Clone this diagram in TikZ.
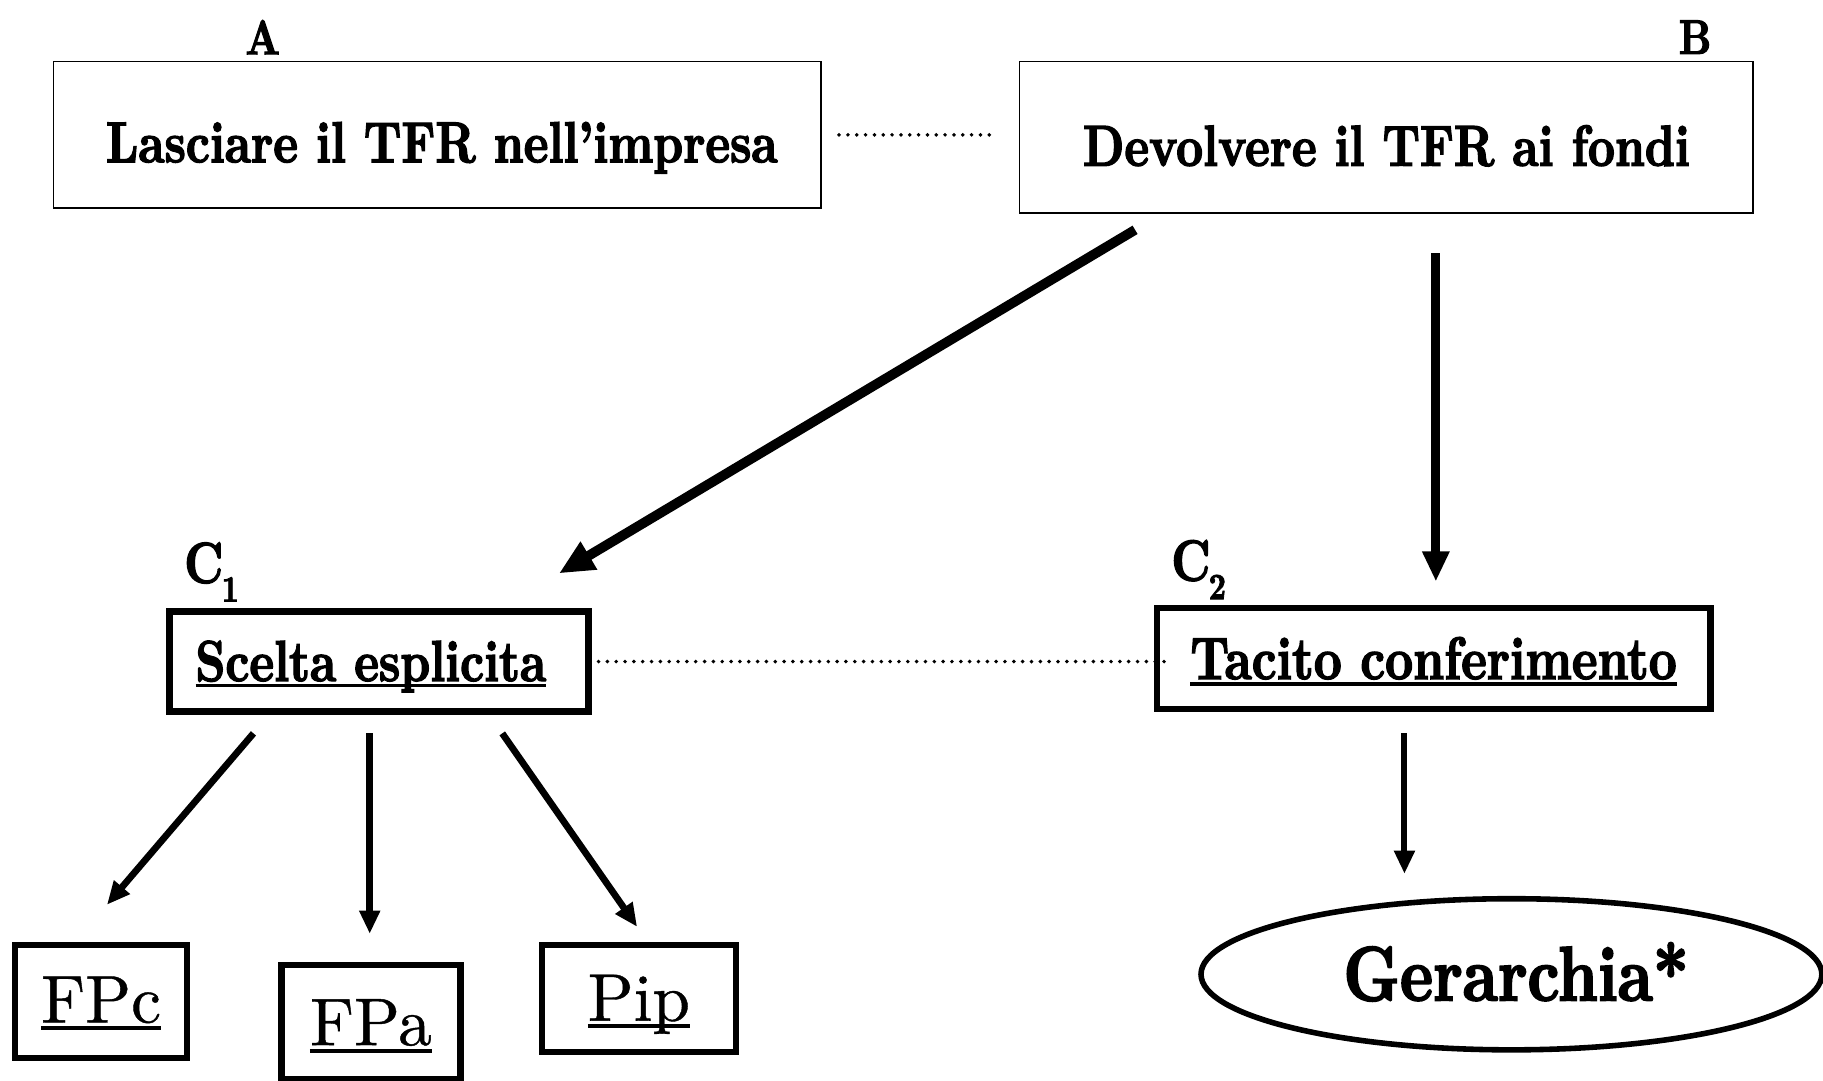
\documentclass[tikz,border=0pt]{standalone}
\usepackage{fontspec}
\newfontfamily\headfont{lmroman10-bold}[Extension=.otf, FakeStretch=0.81, FakeBold=2.2]
\newfontfamily\fundfont{lmroman10-regular}[Extension=.otf, FakeBold=0.6]
\usetikzlibrary{arrows.meta,calc,shapes.geometric}

% underline drawn just under the baseline, crossing descenders
\newcommand\ulbox[1]{\setbox0\hbox{#1}\rlap{\rule[-0.11em]{\wd0}{0.055em}}\box0}
% text whose baseline sits #1 below the centre of its node
\newcommand\atbase[2]{\raisebox{-#1}[0pt][0pt]{#2}}

\tikzset{
  toptext/.style={font=\fontsize{24.9}{28}\headfont},
  thinbox/.style={draw, line width=0.7pt, inner sep=0pt, toptext},
  thickbox/.style={draw, line width=2.8pt, inner sep=0pt, toptext},
  fundbox/.style={draw, line width=2.8pt, inner sep=0pt,
    font=\fontsize{29}{32}\fundfont},
  letter/.style={inner sep=0pt, font=\fontsize{21}{24}\headfont},
  clabel/.style={inner sep=0pt, font=\fontsize{25}{26}\headfont},
  link/.style={line width=1.7pt, line cap=round, dash pattern=on 0pt off 3.8pt},
  bigarrow/.style={line width=4.2pt, -{Triangle[length=15pt,width=13pt]}},
  midarrow/.style={line width=3.8pt, -{Triangle[length=13pt,width=11pt]}},
  smallarrow/.style={line width=2.9pt, -{Triangle[length=10pt,width=8.5pt]}},
}

\begin{document}
\begin{tikzpicture}[x=0.5pt,y=-0.5pt]
\useasboundingbox (0,0) rectangle (1568,929);

% top level choice
\node[thinbox, minimum width=330pt, minimum height=63pt] (A) at (376,116)
  {\atbase{11.8pt}{\kern4pt Lasciare il TFR nell’impresa}};
\node[thinbox, minimum width=315.5pt, minimum height=65pt] (B) at (1192.5,118)
  {\atbase{12.3pt}{Devolvere il TFR ai fondi}};
\node[letter] (la) at (226,32) {A};
\node[letter] (lb) at (1458,32) {B};

% second level
\node[thickbox, minimum width=180pt, minimum height=43pt] (C1) at (326,569)
  {\atbase{8.4pt}{\kern-7pt\ulbox{Scelta esplicita}}};
\node[thickbox, minimum width=238pt, minimum height=43.5pt,
  font=\fontsize{25.8}{28}\headfont] (C2) at (1233,566.5)
  {\atbase{8.8pt}{\ulbox{Tacito conferimento}}};
\node[clabel] (lc1) at (182,492) {C\kern-0.03em\raisebox{-0.32em}{\fontsize{16}{16}\selectfont 1}};
\node[clabel] (lc2) at (1031,490) {C\kern-0.03em\raisebox{-0.32em}{\fontsize{16}{16}\selectfont 2}};

% pension funds
\node[fundbox, minimum width=74pt, minimum height=48.5pt] (FPc) at (87,861.5)
  {\atbase{9pt}{\ulbox{FPc}}};
\node[fundbox, minimum width=77pt, minimum height=49pt] (FPa) at (319,879)
  {\atbase{10pt}{\ulbox{FPa}}};
\node[fundbox, minimum width=83.5pt, minimum height=46pt] (Pip) at (549.5,859)
  {\atbase{9.5pt}{\ulbox{Pip}}};
\node[ellipse, draw, line width=2.4pt, inner sep=0pt, minimum width=267pt,
  minimum height=65pt, font=\fontsize{33.3}{36}\headfont] (G) at (1300,838)
  {\atbase{11.3pt}{\kern4pt Gerarchia*}};

% dotted alternatives
\draw[link, shorten <=7.5pt, shorten >=9pt] (A.east) -- (A.east -| B.west);
\draw[link, shorten <=3pt, shorten >=-6pt] (C1.east) -- (C1.east -| C2.west);

% arrows
\draw[bigarrow] ($(B.south west)+(100,14)$) -- ($(C1.north east)+(-28,-30)$);
\draw[midarrow] ($(B.south)+(42.5,34)$) -- ($(C2.north)+(2,-20)$);
\draw[smallarrow] ($(C1.south)+(-108,16)$) -- ($(FPc.north)+(5,-32)$);
\draw[smallarrow] ($(C1.south)+(-8,16)$) -- ($(FPa.north)+(-1,-24)$);
\draw[smallarrow] ($(C1.south)+(106,16)$) -- ($(Pip.north)+(-1.5,-13)$);
\draw[smallarrow, line width=2.6pt] ($(C2.south)+(-25,18)$) -- ($(G.north)+(-92,-19)$);
\end{tikzpicture}
\end{document}
